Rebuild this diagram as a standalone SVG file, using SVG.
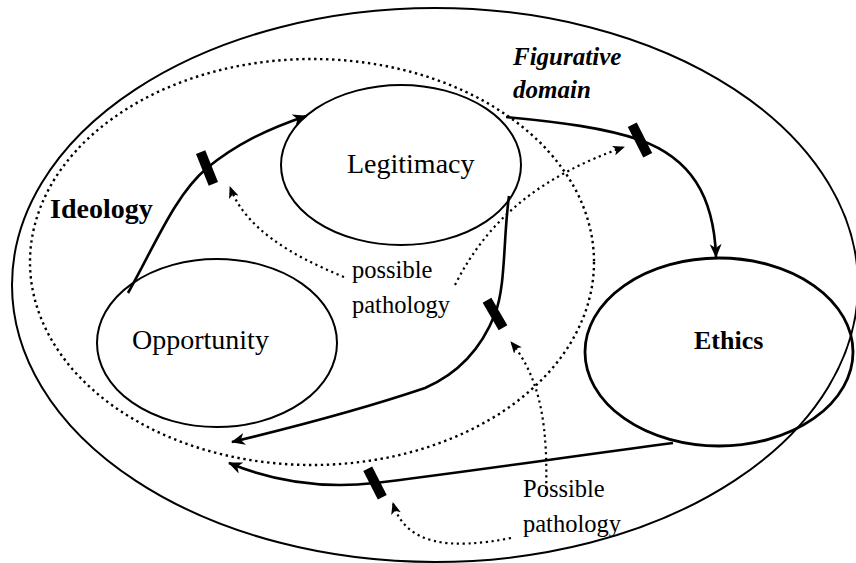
<svg xmlns="http://www.w3.org/2000/svg" width="856" height="563" viewBox="0 0 856 563">
<style>
.bg{fill:#fff}
.line{fill:none;stroke:#000;stroke-width:2}
.node{fill:none;stroke:#000;stroke-width:2}
.thick{fill:none;stroke:#000;stroke-width:2.8}
.dot{fill:none;stroke:#000;stroke-width:2.4;stroke-dasharray:2.4 3.6}
.conn{fill:none;stroke:#000;stroke-width:2.6}
.dconn{fill:none;stroke:#000;stroke-width:2.2;stroke-dasharray:2.2 3.6}
.bar{fill:#000}
.t{font-family:"Liberation Serif","Times New Roman",serif;fill:#000}
</style>
<defs>
<marker id="ah" viewBox="0 0 14 12" refX="13" refY="6" markerWidth="14" markerHeight="12" markerUnits="userSpaceOnUse" orient="auto">
<path d="M0,0 L14,6 L0,12 L4,6 Z" fill="#000"/>
</marker>
<marker id="ahs" viewBox="0 0 12 10" refX="11" refY="5" markerWidth="12" markerHeight="10" markerUnits="userSpaceOnUse" orient="auto">
<path d="M0,0 L12,5 L0,10 L3,5 Z" fill="#000"/>
</marker>
</defs>
<rect class="bg" x="0" y="0" width="856" height="563"/>
<g id="outer-domain">
<ellipse class="line" cx="435" cy="285" rx="423" ry="277"/>
<text class="t" x="513" y="65" font-size="25" font-weight="bold" font-style="italic">Figurative</text>
<text class="t" x="513" y="98" font-size="25" font-weight="bold" font-style="italic">domain</text>
</g>
<g id="ideology">
<ellipse class="dot" cx="312" cy="262" rx="282" ry="203"/>
<text class="t" x="50" y="218" font-size="28" font-weight="bold">Ideology</text>
</g>
<g id="legitimacy">
<ellipse class="node" cx="401" cy="165" rx="120" ry="80"/>
<text class="t" x="347" y="173" font-size="28">Legitimacy</text>
</g>
<g id="opportunity">
<ellipse class="node" cx="217" cy="343" rx="120" ry="84"/>
<text class="t" x="132" y="349" font-size="28">Opportunity</text>
</g>
<g id="ethics">
<ellipse class="thick" cx="719" cy="352" rx="134" ry="94"/>
<text class="t" x="694" y="349" font-size="26" font-weight="bold">Ethics</text>
</g>
<g id="pathology-upper">
<text class="t" x="352" y="278" font-size="24.5">possible</text>
<text class="t" x="352" y="313" font-size="24.5">pathology</text>
</g>
<g id="pathology-lower">
<text class="t" x="523" y="497" font-size="24.5">Possible</text>
<text class="t" x="523" y="532" font-size="24.5">pathology</text>
</g>
<g id="connectors">
<path class="conn" marker-end="url(#ah)" d="M128,293 C155,245 175,195 207,168 C235,145 265,130 306,116"/>
<path class="conn" marker-end="url(#ah)" d="M506,117 C560,122 605,128 640,140 C690,158 714,195 716,257"/>
<path class="conn" marker-end="url(#ah)" d="M509,196 C503,240 506,285 495,314 C480,352 455,375 425,388 C360,410 290,428 232,442"/>
<path class="conn" marker-end="url(#ah)" d="M673,443 C560,458 450,474 375,483 C320,489 270,480 229,463"/>
<rect class="bar" x="-5" y="-17" width="10" height="34" transform="translate(207,168) rotate(-22)"/>
<rect class="bar" x="-5" y="-17" width="10" height="34" transform="translate(640,140) rotate(-27)"/>
<rect class="bar" x="-5" y="-16" width="10" height="32" transform="translate(495,314) rotate(-30)"/>
<rect class="bar" x="-5" y="-16" width="10" height="32" transform="translate(375,483) rotate(-27)"/>
<path class="dconn" marker-end="url(#ahs)" d="M344,277 C290,255 245,228 230,187"/>
<path class="dconn" marker-end="url(#ahs)" d="M455,285 C490,215 545,175 624,147"/>
<path class="dconn" marker-end="url(#ahs)" d="M546,495 C548,430 542,380 511,342"/>
<path class="dconn" marker-end="url(#ahs)" d="M511,538 C450,550 405,545 393,503"/>
</g>
</svg>
